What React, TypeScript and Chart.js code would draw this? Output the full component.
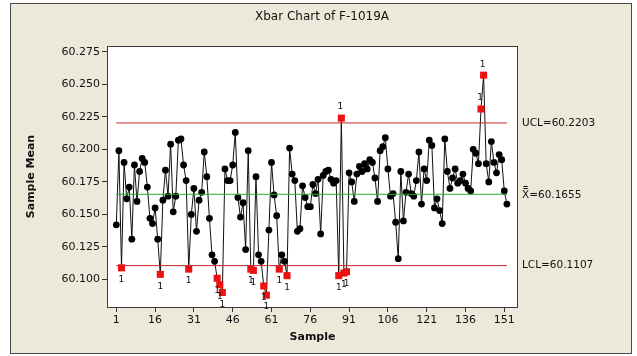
import { useEffect, useRef } from 'react';
import { Chart, registerables } from 'chart.js';

Chart.register(...registerables);

const chartTitle = 'Xbar Chart of F-1019A';
const xAxisTitle = 'Sample';
const yAxisTitle = 'Sample Mean';

const sampleMeans: number[] = [
  60.142, 60.199, 60.109, 60.190, 60.162, 60.171, 60.131, 60.188, 60.160, 60.183,
  60.193, 60.190, 60.171, 60.147, 60.143, 60.155, 60.131, 60.104, 60.161, 60.184,
  60.164, 60.204, 60.152, 60.164, 60.207, 60.208, 60.188, 60.176, 60.108, 60.150,
  60.170, 60.137, 60.161, 60.167, 60.198, 60.179, 60.147, 60.119, 60.114, 60.101,
  60.096, 60.090, 60.185, 60.176, 60.176, 60.188, 60.213, 60.163, 60.148, 60.159,
  60.123, 60.199, 60.108, 60.107, 60.179, 60.119, 60.114, 60.095, 60.088, 60.138,
  60.190, 60.165, 60.149, 60.108, 60.119, 60.114, 60.103, 60.201, 60.181, 60.176,
  60.137, 60.139, 60.172, 60.163, 60.156, 60.156, 60.173, 60.166, 60.177, 60.135,
  60.180, 60.183, 60.184, 60.177, 60.174, 60.176, 60.103, 60.224, 60.105, 60.106,
  60.182, 60.175, 60.160, 60.181, 60.187, 60.183, 60.189, 60.185, 60.192, 60.190,
  60.178, 60.160, 60.199, 60.202, 60.209, 60.185, 60.164, 60.166, 60.144, 60.116,
  60.183, 60.145, 60.167, 60.181, 60.166, 60.164, 60.176, 60.198, 60.158, 60.185,
  60.176, 60.207, 60.203, 60.155, 60.162, 60.153, 60.143, 60.208, 60.183, 60.170,
  60.178, 60.185, 60.174, 60.176, 60.181, 60.174, 60.170, 60.168, 60.200, 60.197,
  60.189, 60.231, 60.257, 60.189, 60.175, 60.206, 60.190, 60.182, 60.196, 60.192,
  60.168, 60.158,
];

const xTickValues = [1, 16, 31, 46, 61, 76, 91, 106, 121, 136, 151];
const yTickValues = [60.1, 60.125, 60.15, 60.175, 60.2, 60.225, 60.25, 60.275];

const UCL = 60.2203;
const CENTER = 60.1655;
const LCL = 60.1107;
const uclLabel = 'UCL=60.2203';
const centerLabel = 'X=60.1655';
const lclLabel = 'LCL=60.1107';
const testLabel = '1';

const FONT = '"DejaVu Sans", Verdana, sans-serif';

const isOut = (v: number) => v > UCL || v < LCL;

export default function App() {
  const canvasRef = useRef<HTMLCanvasElement | null>(null);

  useEffect(() => {
    document.body.style.margin = '0';
    const canvas = canvasRef.current;
    if (!canvas) return;

    const points = sampleMeans.map((v, i) => ({ x: i + 1, y: v }));
    const n = sampleMeans.length;

    const decorPlugin = {
      id: 'decor',
      beforeDraw(chart: any) {
        const ctx = chart.ctx;
        const ca = chart.chartArea;
        ctx.save();
        ctx.fillStyle = '#ffffff';
        ctx.fillRect(0, 0, chart.width, chart.height);
        ctx.fillStyle = '#ECE9DA';
        ctx.fillRect(10.5, 3.5, 621, 350);
        ctx.strokeStyle = '#4a4a4a';
        ctx.lineWidth = 1;
        ctx.strokeRect(10.5, 3.5, 621, 350);
        ctx.fillStyle = '#ffffff';
        ctx.fillRect(ca.left, ca.top, ca.right - ca.left, ca.bottom - ca.top);
        ctx.restore();
      },
      afterDraw(chart: any) {
        const ctx = chart.ctx;
        const ca = chart.chartArea;
        const ys = chart.scales.y;
        ctx.save();
        // plot frame
        ctx.strokeStyle = '#3a3a3a';
        ctx.lineWidth = 1;
        ctx.strokeRect(Math.round(ca.left) + 0.5, Math.round(ca.top) + 0.5,
          Math.round(ca.right - ca.left) - 1, Math.round(ca.bottom - ca.top));
        // title
        ctx.fillStyle = '#111';
        ctx.textAlign = 'center';
        ctx.textBaseline = 'middle';
        ctx.font = `12px ${FONT}`;
        ctx.fillText(chartTitle, 322, 17);
        // axis titles
        ctx.font = `bold 11px ${FONT}`;
        ctx.fillText(xAxisTitle, (ca.left + ca.right) / 2, 337);
        ctx.save();
        ctx.translate(31, (ca.top + ca.bottom) / 2);
        ctx.rotate(-Math.PI / 2);
        ctx.fillText(yAxisTitle, 0, 0);
        ctx.restore();
        // limit labels
        ctx.font = `10.5px ${FONT}`;
        ctx.textAlign = 'left';
        const lx = ca.right + 4;
        ctx.fillText(uclLabel, lx, ys.getPixelForValue(UCL));
        const cy = ys.getPixelForValue(CENTER);
        ctx.fillText(centerLabel, lx, cy + 1);
        const xw = ctx.measureText('X').width;
        ctx.strokeStyle = '#111';
        ctx.beginPath();
        ctx.moveTo(lx + 1.5, Math.round(cy - 6) + 0.5);
        ctx.lineTo(lx + xw - 1.5, Math.round(cy - 6) + 0.5);
        ctx.moveTo(lx + 1.5, Math.round(cy - 8) + 0.5);
        ctx.lineTo(lx + xw - 1.5, Math.round(cy - 8) + 0.5);
        ctx.stroke();
        ctx.fillText(lclLabel, lx, ys.getPixelForValue(LCL));
        // test labels
        ctx.font = `9px ${FONT}`;
        ctx.textAlign = 'center';
        const meta = chart.getDatasetMeta(3);
        meta.data.forEach((el: any, i: number) => {
          const v = sampleMeans[i];
          if (v < LCL) ctx.fillText(testLabel, el.x, el.y + 12);
          else if (v > UCL) ctx.fillText(testLabel, el.x - 1, el.y - 11);
        });
        ctx.restore();
      },
    };

    const chart = new Chart(canvas, {
      type: 'scatter',
      data: {
        datasets: [
          {
            data: [{ x: 1, y: UCL }, { x: n, y: UCL }],
            showLine: true, borderColor: '#c42a2a', borderWidth: 1, pointRadius: 0,
          },
          {
            data: [{ x: 1, y: CENTER }, { x: n, y: CENTER }],
            showLine: true, borderColor: '#2fae2f', borderWidth: 1, pointRadius: 0,
          },
          {
            data: [{ x: 1, y: LCL }, { x: n, y: LCL }],
            showLine: true, borderColor: '#c42a2a', borderWidth: 1, pointRadius: 0,
          },
          {
            data: points,
            showLine: true,
            borderColor: '#111',
            borderWidth: 1,
            tension: 0,
            pointStyle: (c: any) => (isOut(sampleMeans[c.dataIndex]) ? 'rect' : 'circle'),
            pointRadius: (c: any) => (isOut(sampleMeans[c.dataIndex]) ? 5 : 3.4),
            pointBackgroundColor: (c: any) => (isOut(sampleMeans[c.dataIndex]) ? '#ee1111' : '#000'),
            pointBorderWidth: 0,
            pointHoverRadius: 0,
          },
        ],
      },
      options: {
        animation: false,
        responsive: false,
        events: [],
        layout: { padding: { top: 46, right: 119, bottom: 0, left: 0 } },
        plugins: { legend: { display: false }, tooltip: { enabled: false }, title: { display: false } },
        scales: {
          x: {
            type: 'linear',
            min: -2.6,
            max: 156.3,
            afterFit: (s: any) => { s.height = 49; },
            afterBuildTicks: (s: any) => { s.ticks = xTickValues.map((v) => ({ value: v })); },
            ticks: { color: '#111', font: { family: FONT, size: 11 }, padding: 2, maxRotation: 0, autoSkip: false },
            grid: { display: true, drawOnChartArea: false, drawTicks: true, tickLength: 5, tickColor: '#333', color: '#333' },
            border: { display: false },
          },
          y: {
            type: 'linear',
            min: 60.0789,
            max: 60.2794,
            afterFit: (s: any) => { s.width = 107; },
            afterBuildTicks: (s: any) => { s.ticks = yTickValues.map((v) => ({ value: v })); },
            ticks: {
              color: '#111', font: { family: FONT, size: 11 }, padding: 2, autoSkip: false,
              callback: (v: any) => Number(v).toFixed(3),
            },
            grid: { display: true, drawOnChartArea: false, drawTicks: true, tickLength: 5, tickColor: '#333', color: '#333' },
            border: { display: false },
          },
        },
      },
      plugins: [decorPlugin],
    });

    return () => chart.destroy();
  }, []);

  return (
    <div style={{ position: 'absolute', left: 0, top: 0, width: 637, height: 356 }}>
      <canvas ref={canvasRef} width={637} height={356} style={{ width: 637, height: 356, display: 'block' }} />
    </div>
  );
}
